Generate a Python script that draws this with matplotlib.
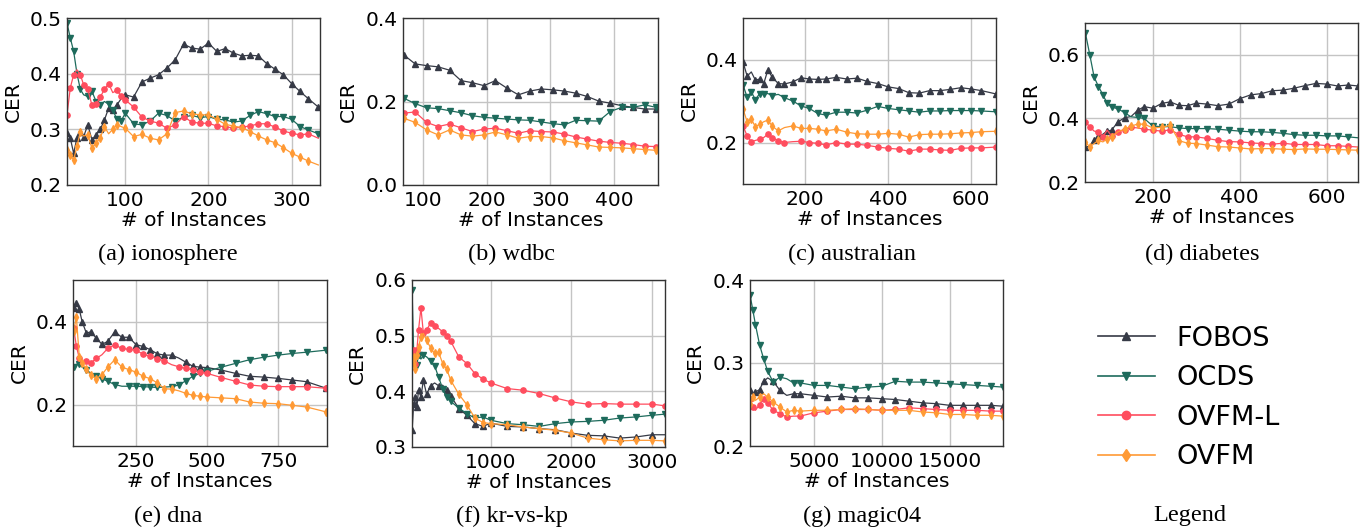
import matplotlib
matplotlib.use("Agg")
import matplotlib.pyplot as plt

plt.rcParams['font.family'] = ['DejaVu Sans']

methods = ['FOBOS', 'OCDS', 'OVFM-L', 'OVFM']
colors = ['#363a46', '#1e6b5c', '#ff4d5e', '#ff9a35']
markers = ['^', 'v', 'o', 'd']

# (a) ionosphere
iono_x = [30, 34, 38, 42, 46, 50, 55, 60, 65, 70, 75, 80, 85, 90, 95, 100, 110, 120, 130, 140,
          150, 160, 170, 180, 190, 200, 210, 220, 230, 240, 250, 260, 270, 280, 290, 300, 310, 320, 332]
iono_fobos = [0.293, 0.284, 0.257, 0.285, 0.296, 0.287, 0.308, 0.281, 0.290, 0.300, 0.317, 0.338, 0.335,
              0.344, 0.355, 0.362, 0.358, 0.385, 0.392, 0.398, 0.410, 0.425, 0.453, 0.446, 0.444, 0.455,
              0.440, 0.445, 0.437, 0.432, 0.433, 0.432, 0.418, 0.408, 0.398, 0.382, 0.368, 0.355, 0.340]
iono_ocds = [0.491, 0.464, 0.440, 0.400, 0.372, 0.362, 0.359, 0.368, 0.350, 0.344, 0.350, 0.345, 0.335,
             0.318, 0.315, 0.329, 0.310, 0.308, 0.315, 0.329, 0.325, 0.315, 0.322, 0.325, 0.321, 0.323,
             0.318, 0.317, 0.313, 0.315, 0.325, 0.332, 0.328, 0.323, 0.323, 0.318, 0.305, 0.299, 0.292]
iono_ovfml = [0.326, 0.375, 0.398, 0.407, 0.398, 0.380, 0.372, 0.343, 0.345, 0.358, 0.372, 0.382, 0.366,
              0.370, 0.360, 0.353, 0.340, 0.322, 0.315, 0.311, 0.302, 0.308, 0.323, 0.313, 0.311, 0.311,
              0.306, 0.305, 0.302, 0.304, 0.306, 0.310, 0.310, 0.304, 0.297, 0.293, 0.290, 0.292, 0.284]
iono_ovfm = [0.263, 0.254, 0.245, 0.270, 0.295, 0.288, 0.290, 0.266, 0.275, 0.285, 0.305, 0.292, 0.300,
             0.308, 0.305, 0.302, 0.287, 0.291, 0.284, 0.281, 0.292, 0.330, 0.333, 0.328, 0.326, 0.326,
             0.318, 0.309, 0.306, 0.303, 0.296, 0.288, 0.281, 0.276, 0.267, 0.257, 0.250, 0.243, 0.236]

# (b) wdbc
wdbc_x = [70, 88, 106, 124, 142, 160, 178, 196, 214, 232, 250, 268, 286, 304, 322, 340, 358, 376,
          394, 412, 430, 448, 466]
wdbc_fobos = [0.312, 0.290, 0.286, 0.283, 0.275, 0.250, 0.245, 0.238, 0.250, 0.232, 0.216, 0.225, 0.230,
              0.228, 0.225, 0.220, 0.212, 0.201, 0.196, 0.190, 0.186, 0.182, 0.182]
wdbc_ocds = [0.208, 0.195, 0.185, 0.183, 0.178, 0.173, 0.166, 0.162, 0.160, 0.158, 0.156, 0.155, 0.151,
             0.147, 0.144, 0.155, 0.154, 0.153, 0.176, 0.186, 0.186, 0.192, 0.186]
wdbc_ovfml = [0.172, 0.175, 0.150, 0.140, 0.146, 0.137, 0.128, 0.134, 0.136, 0.130, 0.124, 0.130, 0.128,
              0.127, 0.122, 0.115, 0.110, 0.105, 0.102, 0.100, 0.097, 0.093, 0.092]
wdbc_ovfm = [0.160, 0.150, 0.132, 0.120, 0.132, 0.120, 0.117, 0.120, 0.127, 0.120, 0.112, 0.116, 0.116,
             0.113, 0.106, 0.101, 0.096, 0.091, 0.090, 0.089, 0.087, 0.085, 0.083]

# (c) australian
aus_x = [50, 60, 70, 80, 90, 100, 110, 120, 135, 150, 170, 190, 210, 230, 250, 275, 300, 325, 350,
         375, 400, 425, 450, 475, 500, 525, 550, 575, 600, 625, 660]
aus_fobos = [0.394, 0.360, 0.370, 0.350, 0.353, 0.342, 0.375, 0.358, 0.342, 0.341, 0.346, 0.356, 0.353,
             0.352, 0.353, 0.357, 0.353, 0.355, 0.347, 0.342, 0.334, 0.330, 0.320, 0.319, 0.325, 0.325,
             0.328, 0.332, 0.329, 0.325, 0.317]
aus_ocds = [0.339, 0.309, 0.322, 0.303, 0.318, 0.317, 0.318, 0.313, 0.316, 0.308, 0.300, 0.288, 0.282,
            0.270, 0.266, 0.273, 0.273, 0.271, 0.278, 0.287, 0.282, 0.279, 0.276, 0.273, 0.276, 0.276,
            0.277, 0.277, 0.277, 0.276, 0.274]
aus_ovfml = [0.240, 0.216, 0.202, 0.205, 0.208, 0.212, 0.220, 0.212, 0.204, 0.200, 0.202, 0.203, 0.200,
             0.198, 0.194, 0.200, 0.196, 0.196, 0.193, 0.189, 0.186, 0.184, 0.179, 0.184, 0.184, 0.182,
             0.181, 0.186, 0.187, 0.187, 0.189]
aus_ovfm = [0.281, 0.250, 0.256, 0.238, 0.244, 0.250, 0.254, 0.240, 0.228, 0.236, 0.240, 0.234, 0.234,
            0.232, 0.228, 0.232, 0.225, 0.221, 0.220, 0.220, 0.222, 0.220, 0.213, 0.219, 0.220, 0.220,
            0.221, 0.223, 0.224, 0.226, 0.227]

# (d) diabetes
diab_x = [45, 55, 65, 75, 85, 95, 105, 120, 135, 150, 165, 180, 200, 220, 240, 260, 280, 300, 325,
          350, 375, 400, 425, 450, 475, 500, 525, 550, 575, 600, 625, 650, 672]
diab_fobos = [0.310, 0.312, 0.332, 0.345, 0.350, 0.360, 0.363, 0.389, 0.402, 0.406, 0.425, 0.437, 0.432,
              0.447, 0.452, 0.441, 0.440, 0.448, 0.445, 0.440, 0.445, 0.462, 0.474, 0.478, 0.487, 0.489,
              0.495, 0.503, 0.510, 0.508, 0.502, 0.505, 0.502]
diab_ocds = [0.668, 0.600, 0.530, 0.500, 0.475, 0.447, 0.436, 0.430, 0.418, 0.405, 0.403, 0.400, 0.376,
             0.374, 0.374, 0.370, 0.368, 0.368, 0.368, 0.366, 0.363, 0.360, 0.358, 0.358, 0.356, 0.353,
             0.349, 0.347, 0.347, 0.345, 0.345, 0.342, 0.339]
diab_ovfml = [0.389, 0.374, 0.360, 0.358, 0.342, 0.363, 0.345, 0.358, 0.365, 0.372, 0.370, 0.366, 0.363,
              0.360, 0.364, 0.350, 0.342, 0.342, 0.337, 0.331, 0.327, 0.326, 0.323, 0.321, 0.319, 0.322,
              0.318, 0.318, 0.318, 0.314, 0.314, 0.312, 0.310]
diab_ovfm = [0.326, 0.310, 0.321, 0.331, 0.326, 0.335, 0.342, 0.358, 0.366, 0.376, 0.382, 0.382, 0.370,
             0.372, 0.378, 0.330, 0.322, 0.321, 0.316, 0.311, 0.310, 0.307, 0.304, 0.305, 0.305, 0.303,
             0.302, 0.304, 0.303, 0.303, 0.302, 0.301, 0.300]

# (e) dna
dna_x = [30, 40, 50, 60, 75, 90, 110, 130, 150, 175, 200, 225, 250, 275, 300, 325, 350, 375, 400,
         425, 450, 475, 500, 550, 600, 650, 700, 750, 800, 850, 920]
dna_fobos = [0.432, 0.444, 0.430, 0.400, 0.372, 0.375, 0.360, 0.345, 0.352, 0.375, 0.362, 0.362, 0.344,
             0.340, 0.332, 0.322, 0.319, 0.319, 0.312, 0.302, 0.292, 0.290, 0.289, 0.283, 0.275, 0.268,
             0.266, 0.263, 0.259, 0.255, 0.239]
dna_ocds = [0.291, 0.297, 0.297, 0.290, 0.283, 0.276, 0.268, 0.262, 0.256, 0.248, 0.244, 0.244, 0.244,
            0.243, 0.242, 0.241, 0.242, 0.243, 0.247, 0.257, 0.268, 0.275, 0.280, 0.290, 0.299, 0.308,
            0.314, 0.319, 0.323, 0.326, 0.331]
dna_ovfml = [0.385, 0.340, 0.312, 0.295, 0.305, 0.300, 0.311, 0.320, 0.335, 0.344, 0.335, 0.333, 0.331,
             0.321, 0.316, 0.310, 0.305, 0.296, 0.291, 0.287, 0.283, 0.278, 0.275, 0.265, 0.256, 0.247,
             0.244, 0.243, 0.243, 0.243, 0.239]
dna_ovfm = [0.376, 0.410, 0.315, 0.300, 0.285, 0.270, 0.262, 0.272, 0.290, 0.308, 0.290, 0.284, 0.278,
            0.268, 0.262, 0.252, 0.238, 0.237, 0.233, 0.227, 0.222, 0.220, 0.218, 0.216, 0.214, 0.206,
            0.203, 0.202, 0.198, 0.194, 0.182]

# (f) kr-vs-kp
krkp_x = [20, 40, 60, 80, 100, 130, 160, 200, 250, 300, 350, 400, 450, 500, 600, 700, 800, 900, 1000,
          1200, 1400, 1600, 1800, 2000, 2200, 2400, 2600, 2800, 3000, 3160]
krkp_fobos = [0.330, 0.378, 0.390, 0.372, 0.402, 0.390, 0.420, 0.395, 0.410, 0.415, 0.410, 0.411, 0.402,
              0.392, 0.369, 0.357, 0.342, 0.337, 0.343, 0.337, 0.336, 0.333, 0.331, 0.325, 0.321, 0.320,
              0.316, 0.318, 0.322, 0.322]
krkp_ocds = [0.582, 0.470, 0.450, 0.448, 0.465, 0.458, 0.465, 0.462, 0.455, 0.446, 0.425, 0.405, 0.390,
             0.382, 0.370, 0.360, 0.352, 0.354, 0.348, 0.342, 0.340, 0.337, 0.342, 0.345, 0.346, 0.348,
             0.352, 0.354, 0.357, 0.359]
krkp_ovfml = [0.468, 0.475, 0.450, 0.475, 0.510, 0.550, 0.505, 0.510, 0.523, 0.517, 0.513, 0.507, 0.500,
              0.490, 0.462, 0.450, 0.432, 0.422, 0.415, 0.405, 0.402, 0.396, 0.388, 0.381, 0.377, 0.378,
              0.377, 0.377, 0.377, 0.374]
krkp_ovfm = [0.450, 0.462, 0.441, 0.465, 0.480, 0.498, 0.504, 0.492, 0.478, 0.468, 0.470, 0.450, 0.440,
             0.420, 0.395, 0.376, 0.352, 0.344, 0.342, 0.340, 0.336, 0.333, 0.330, 0.325, 0.316, 0.313,
             0.311, 0.312, 0.312, 0.311]

# (g) magic04
magic_x = [300, 500, 700, 1000, 1300, 1600, 2000, 2500, 3000, 3500, 4000, 5000, 6000, 7000, 8000, 9000,
           10000, 11000, 12000, 13000, 14000, 15000, 16000, 17000, 18000, 18900]
magic_fobos = [0.267, 0.261, 0.265, 0.268, 0.278, 0.282, 0.278, 0.267, 0.261, 0.263, 0.263, 0.261, 0.259,
               0.260, 0.258, 0.258, 0.257, 0.256, 0.254, 0.252, 0.251, 0.249, 0.249, 0.249, 0.249, 0.248]
magic_ocds = [0.382, 0.364, 0.346, 0.322, 0.305, 0.290, 0.277, 0.283, 0.281, 0.276, 0.276, 0.273, 0.273,
              0.271, 0.269, 0.271, 0.272, 0.278, 0.277, 0.277, 0.276, 0.275, 0.274, 0.273, 0.272, 0.271]
magic_ovfml = [0.257, 0.247, 0.243, 0.250, 0.257, 0.252, 0.243, 0.239, 0.235, 0.236, 0.236, 0.240, 0.242,
               0.244, 0.244, 0.244, 0.243, 0.244, 0.246, 0.245, 0.244, 0.243, 0.243, 0.243, 0.242, 0.242]
magic_ovfm = [0.251, 0.259, 0.255, 0.259, 0.263, 0.259, 0.253, 0.247, 0.241, 0.243, 0.242, 0.243, 0.243,
              0.244, 0.245, 0.244, 0.243, 0.243, 0.243, 0.241, 0.240, 0.238, 0.238, 0.237, 0.237, 0.236]

captions = ['(a) ionosphere', '(b) wdbc', '(c) australian', '(d) diabetes',
            '(e) dna', '(f) kr-vs-kp', '(g) magic04']

panels = [
    (iono_x, [iono_fobos, iono_ocds, iono_ovfml, iono_ovfm], (30, 334), (0.2, 0.5), [100, 200, 300], [0.2, 0.3, 0.4, 0.5]),
    (wdbc_x, [wdbc_fobos, wdbc_ocds, wdbc_ovfml, wdbc_ovfm], (69, 469), (0.0, 0.4), [100, 200, 300, 400], [0.0, 0.2, 0.4]),
    (aus_x, [aus_fobos, aus_ocds, aus_ovfml, aus_ovfm], (50, 660), (0.1, 0.5), [200, 400, 600], [0.2, 0.4]),
    (diab_x, [diab_fobos, diab_ocds, diab_ovfml, diab_ovfm], (44, 672), (0.2, 0.7), [200, 400, 600], [0.2, 0.4, 0.6]),
    (dna_x, [dna_fobos, dna_ocds, dna_ovfml, dna_ovfm], (28, 922), (0.1, 0.5), [250, 500, 750], [0.2, 0.4]),
    (krkp_x, [krkp_fobos, krkp_ocds, krkp_ovfml, krkp_ovfm], (19, 3162), (0.3, 0.6), [1000, 2000, 3000], [0.3, 0.4, 0.5, 0.6]),
    (magic_x, [magic_fobos, magic_ocds, magic_ovfml, magic_ovfm], (296, 18920), (0.2, 0.4), [5000, 10000, 15000], [0.2, 0.3, 0.4]),
]

# axes boxes in pixels: left, top, right, bottom
W, H = 1372, 529
boxes = [(67, 18, 320, 185), (403, 18, 658, 185), (743, 18, 996, 184), (1085, 23, 1358, 182),
         (73, 280, 327, 446), (412, 280, 665, 447), (750, 280, 1003, 446)]
cap_pos = [(168, 254), (512, 254), (852, 254), (1202, 254), (168, 516), (512, 516), (862, 516)]

fig = plt.figure(figsize=(W / 100, H / 100), dpi=100)

for (x, ys, xl, yl, xt, yt), (l, t, r, b), cap, (cx, cy) in zip(panels, boxes, captions, cap_pos):
    ax = fig.add_axes([l / W, 1 - b / H, (r - l) / W, (b - t) / H])
    for y, c, m in zip(ys, colors, markers):
        ax.plot(x, y, color=c, marker=m, markersize=3.8, linewidth=0.9, markevery=0.028)
    ax.set_xlim(*xl)
    ax.set_ylim(*yl)
    ax.set_xticks(xt)
    ax.set_yticks(yt)
    ax.grid(True, color='#c4c4c4', linewidth=1.0)
    ax.set_axisbelow(True)
    ax.tick_params(length=0, labelsize=14.5, pad=4)
    for s in ax.spines.values():
        s.set_color('#333333')
        s.set_linewidth(1.0)
    ax.set_xlabel('# of Instances', fontsize=14.5, labelpad=1)
    ax.set_ylabel('CER', fontsize=14.5, labelpad=5)
    fig.text(cx / W, 1 - cy / H, cap, ha='center', va='center',
             family='Liberation Serif', fontsize=17.5)

handles = [plt.Line2D([], [], color=c, marker=m, markersize=6, linewidth=1.2)
           for c, m in zip(colors, markers)]
fig.legend(handles, methods, loc='center left', bbox_to_anchor=(1098 / W, 1 - 398 / H),
           frameon=False, fontsize=19.5, handlelength=2.1, handletextpad=0.8,
           labelspacing=0.5, borderpad=0, borderaxespad=0)
fig.text(1190 / W, 1 - 516 / H, 'Legend', ha='center', va='center',
         family='Liberation Serif', fontsize=17.5)

fig.savefig('out.png', dpi=100)
